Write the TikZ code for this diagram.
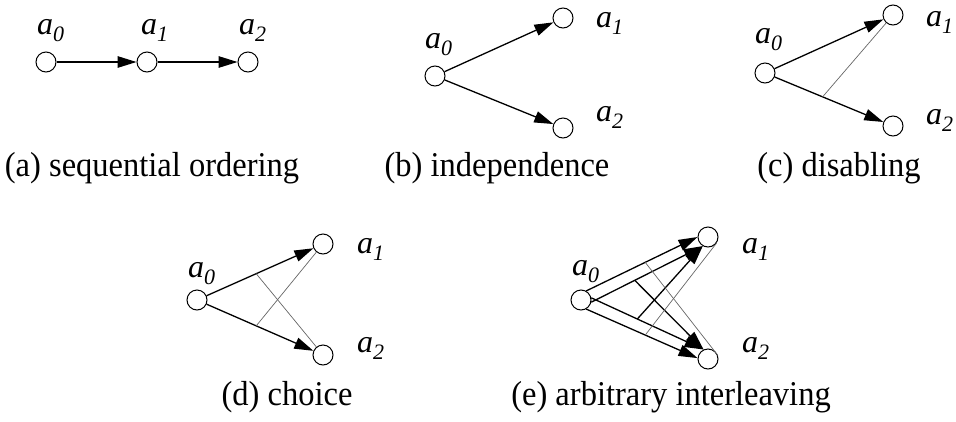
\documentclass[tikz,border=0pt]{standalone}
\usepackage{fontspec}
\setmainfont{Liberation Serif}
\usetikzlibrary{arrows.meta,calc}
\newcommand\lbl[1]{\textit{a}\raisebox{-7pt}{\fontsize{22}{22}\selectfont\textit{#1}}}
\newcommand\captxt[1]{\scalebox{1}[1.07]{#1}}
\begin{document}
\begin{tikzpicture}[x=1pt,y=-1pt,
  st/.style={circle,draw,line width=1pt,minimum size=20pt,inner sep=0pt},
  arr/.style={line width=1.3pt,-{Triangle[length=19pt,width=11.5pt]}},
  dis/.style={black!60,line width=0.7pt},
  lab/.style={anchor=base west,inner sep=0pt,font=\fontsize{32}{36}\selectfont},
  captext/.style={anchor=base,inner sep=0pt,font=\fontsize{32.5}{38}\selectfont}]
\useasboundingbox (0,0) rectangle (956,421);
% (a)
\node[st] (a0a) at (46,62) {};
\node[st] (a1a) at (147,62) {};
\node[st] (a2a) at (248,62) {};
\node[lab] (la0a) at (37,34) {\lbl{0}};
\node[lab] (la1a) at (141,34) {\lbl{1}};
\node[lab] (la2a) at (239,34) {\lbl{2}};
\draw[arr] (a0a) -- (a1a);
\draw[arr] (a1a) -- (a2a);
\node[captext] (capa) at (152,176) {\captxt{(a) sequential ordering}};
% (b)
\node[st] (a0b) at (435,76) {};
\node[st] (a1b) at (563,18) {};
\node[st] (a2b) at (563,128) {};
\node[lab] (la0b) at (425,48) {\lbl{0}};
\node[lab] (la1b) at (596,27) {\lbl{1}};
\node[lab] (la2b) at (596,121) {\lbl{2}};
\draw[arr] (a0b) -- (a1b);
\draw[arr] (a0b) -- (a2b);
\node[captext] (capb) at (497,176) {\captxt{(b) independence}};
% (c)
\node[st] (a0c) at (765,73) {};
\node[st] (a1c) at (893,15) {};
\node[st] (a2c) at (893,126) {};
\node[lab] (la0c) at (755,43) {\lbl{0}};
\node[lab] (la1c) at (926,26) {\lbl{1}};
\node[lab] (la2c) at (926,124) {\lbl{2}};
\draw[arr] (a0c) -- (a1c);
\draw[arr] (a0c) -- (a2c);
\coordinate (pc) at ($(a0c)!0.45!(a2c)$);
\draw[dis] (pc) -- (a1c);
\node[captext] (capc) at (839,176) {\captxt{(c) disabling}};
% (d)
\node[st] (a0d) at (197,300) {};
\node[st] (a1d) at (323,244) {};
\node[st] (a2d) at (323,355) {};
\node[lab] (la0d) at (188,277) {\lbl{0}};
\node[lab] (la1d) at (357,253) {\lbl{1}};
\node[lab] (la2d) at (357,352) {\lbl{2}};
\draw[arr] (a0d) -- (a1d);
\draw[arr] (a0d) -- (a2d);
\coordinate (pd1) at ($(a0d)!0.47!(a2d)$);
\coordinate (pd2) at ($(a0d)!0.47!(a1d)$);
\draw[dis] (pd1) -- (a1d);
\draw[dis] (pd2) -- (a2d);
\node[captext] (capd) at (287,405) {\captxt{(d) choice}};
% (e)
\node[st] (a0e) at (581,300) {};
\node[st] (a1e) at (708,237) {};
\node[st] (a2e) at (708,359) {};
\node[lab] (la0e) at (572,275) {\lbl{0}};
\node[lab] (la1e) at (742,253) {\lbl{1}};
\node[lab] (la2e) at (742,352) {\lbl{2}};
\draw[arr] (a0e.60) -- (a1e.180);
\draw[arr] (a0e.-60) -- (a2e.175);
\draw[arr] (a0e.-12) -- (a1e.240);
\draw[arr] (a0e.12) -- (a2e.115);
\coordinate (pe1) at ($(a0e.-12)!0.39!(a1e.240)$);
\coordinate (pe2) at ($(a0e.12)!0.41!(a2e.115)$);
\draw[arr] (pe1) -- (a2e.115);
\draw[arr] (pe2) -- (a1e.240);
\coordinate (ge1) at ($(a0e.60)!0.53!(a1e.180)$);
\coordinate (ge2) at ($(a0e.-60)!0.53!(a2e.175)$);
\draw[dis] (ge1) -- (a2e.20);
\draw[dis] (ge2) -- (a1e.-35);
\node[captext] (cape) at (671,405) {\captxt{(e) arbitrary interleaving}};
\end{tikzpicture}
\end{document}
